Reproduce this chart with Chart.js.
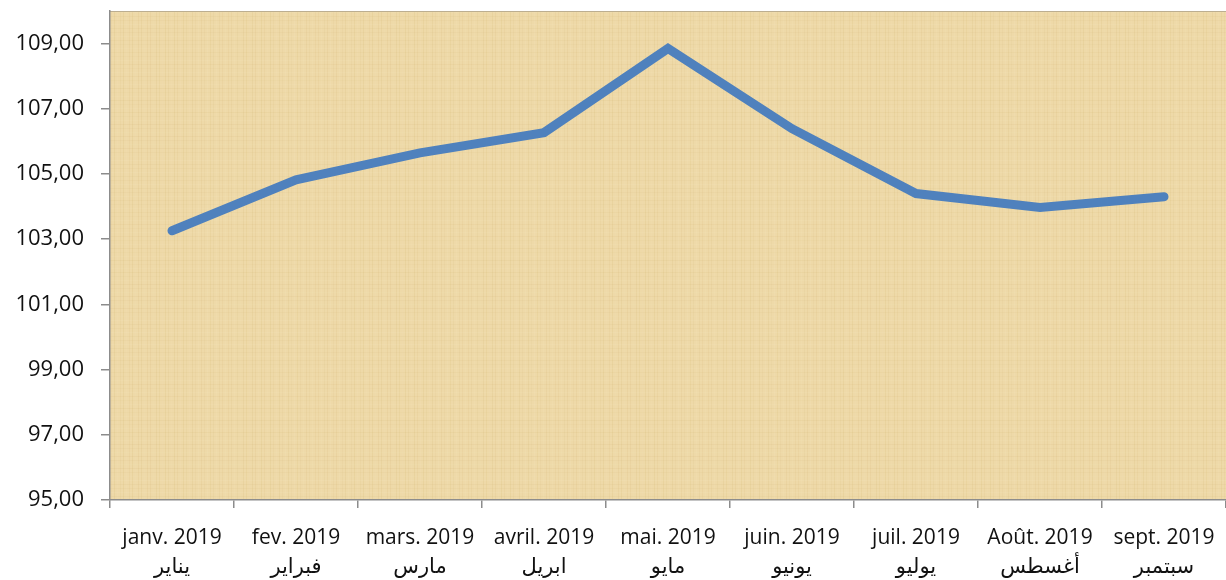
<!DOCTYPE html>
<html>
<head>
<meta charset="utf-8">
<script src="https://cdn.jsdelivr.net/npm/chart.js@4/dist/chart.umd.min.js"></script>
<style>
  html, body { margin: 0; padding: 0; background: #fff; }
  #wrap { width: 1226px; height: 580px; }
</style>
</head>
<body>
<div id="wrap"><canvas id="chart" width="1226" height="580"></canvas></div>
<script>
// ── Data ────────────────────────────────────────────────────
const moisFr = ['janv. 2019', 'fev. 2019', 'mars. 2019', 'avril. 2019', 'mai. 2019',
                'juin. 2019', 'juil. 2019', 'Août. 2019', 'sept. 2019'];
const moisAr = ['يناير', 'فبراير', 'مارس', 'ابريل', 'مايو', 'يونيو', 'يوليو', 'أغسطس', 'سبتمبر'];
const indice = [103.26, 104.82, 105.65, 106.27, 108.85, 106.39, 104.40, 103.97, 104.30];
const yTicks = [95, 97, 99, 101, 103, 105, 107, 109];

// ── Papyrus-like background for the plot area ──────────────
function makePapyrus(ctx) {
    const c = document.createElement('canvas');
    c.width = 240; c.height = 160;
    const g = c.getContext('2d');
    g.fillStyle = '#eed9a8';
    g.fillRect(0, 0, c.width, c.height);
    for (let x = 0; x < c.width; x += 3) {
        const a = 0.04 + 0.05 * Math.abs(Math.sin(x * 0.37));
        g.fillStyle = (x % 9 === 0) ? `rgba(255,245,215,${a})` : `rgba(190,150,70,${a})`;
        g.fillRect(x, 0, 1, c.height);
    }
    for (let y = 0; y < c.height; y += 4) {
        const a = 0.03 + 0.04 * Math.abs(Math.cos(y * 0.53));
        g.fillStyle = (y % 12 === 0) ? `rgba(255,248,225,${a})` : `rgba(185,145,65,${a})`;
        g.fillRect(0, y, c.width, 1);
    }
    return ctx.createPattern(c, 'repeat');
}

const plotBg = {
    id: 'plotBg',
    beforeDraw(chart) {
        const { ctx, chartArea: a } = chart;
        ctx.save();
        ctx.fillStyle = makePapyrus(ctx);
        ctx.fillRect(a.left, a.top, a.right - a.left, a.bottom - a.top);
        ctx.strokeStyle = '#bcae90';
        ctx.lineWidth = 1;
        ctx.beginPath();
        ctx.moveTo(a.left, a.top + 0.5);
        ctx.lineTo(a.right, a.top + 0.5);
        ctx.stroke();
        ctx.restore();
    }
};

// ── Chart ───────────────────────────────────────────────────
const FONT = "'Open Sans', 'DejaVu Sans', sans-serif";

new Chart(document.getElementById('chart'), {
    type: 'line',
    data: {
        labels: moisFr.map((m, i) => [m, moisAr[i]]),
        datasets: [{
            data: indice,
            borderColor: '#4f81bd',
            borderWidth: 9,
            borderCapStyle: 'round',
            pointRadius: 0,
            tension: 0,
            fill: false
        }]
    },
    options: {
        responsive: false,
        animation: false,
        layout: { padding: { top: 11, right: 0, left: 0, bottom: 0 } },
        plugins: { legend: { display: false }, tooltip: { enabled: false } },
        scales: {
            x: {
                offset: true,
                border: { color: '#8c8c8c', width: 1.5 },
                grid: { offset: true, drawOnChartArea: false, drawTicks: true, tickLength: 8, color: '#8c8c8c', lineWidth: 1.5 },
                ticks: {
                    color: '#111',
                    padding: 16,
                    maxRotation: 0,
                    autoSkip: false,
                    font: { family: FONT, size: 21, lineHeight: 1.35 }
                },
                afterFit(scale) {
                    scale.height = 80;
                    scale.paddingLeft = 0; scale.paddingRight = 0;
                }
            },
            y: {
                min: 95,
                max: 110,
                border: { color: '#8c8c8c', width: 1.5 },
                grid: { drawOnChartArea: false, drawTicks: true, tickLength: 9, color: '#8c8c8c', lineWidth: 1.5 },
                afterBuildTicks(scale) { scale.ticks = yTicks.map(v => ({ value: v })); },
                ticks: {
                    color: '#111',
                    padding: 17,
                    font: { family: FONT, size: 22 },
                    callback: v => v.toFixed(2).replace('.', ',')
                },
                afterFit(scale) {
                    scale.width = 110;
                    scale.paddingTop = 0; scale.paddingBottom = 0;
                }
            }
        }
    },
    plugins: [plotBg]
});
</script>
</body>
</html>
